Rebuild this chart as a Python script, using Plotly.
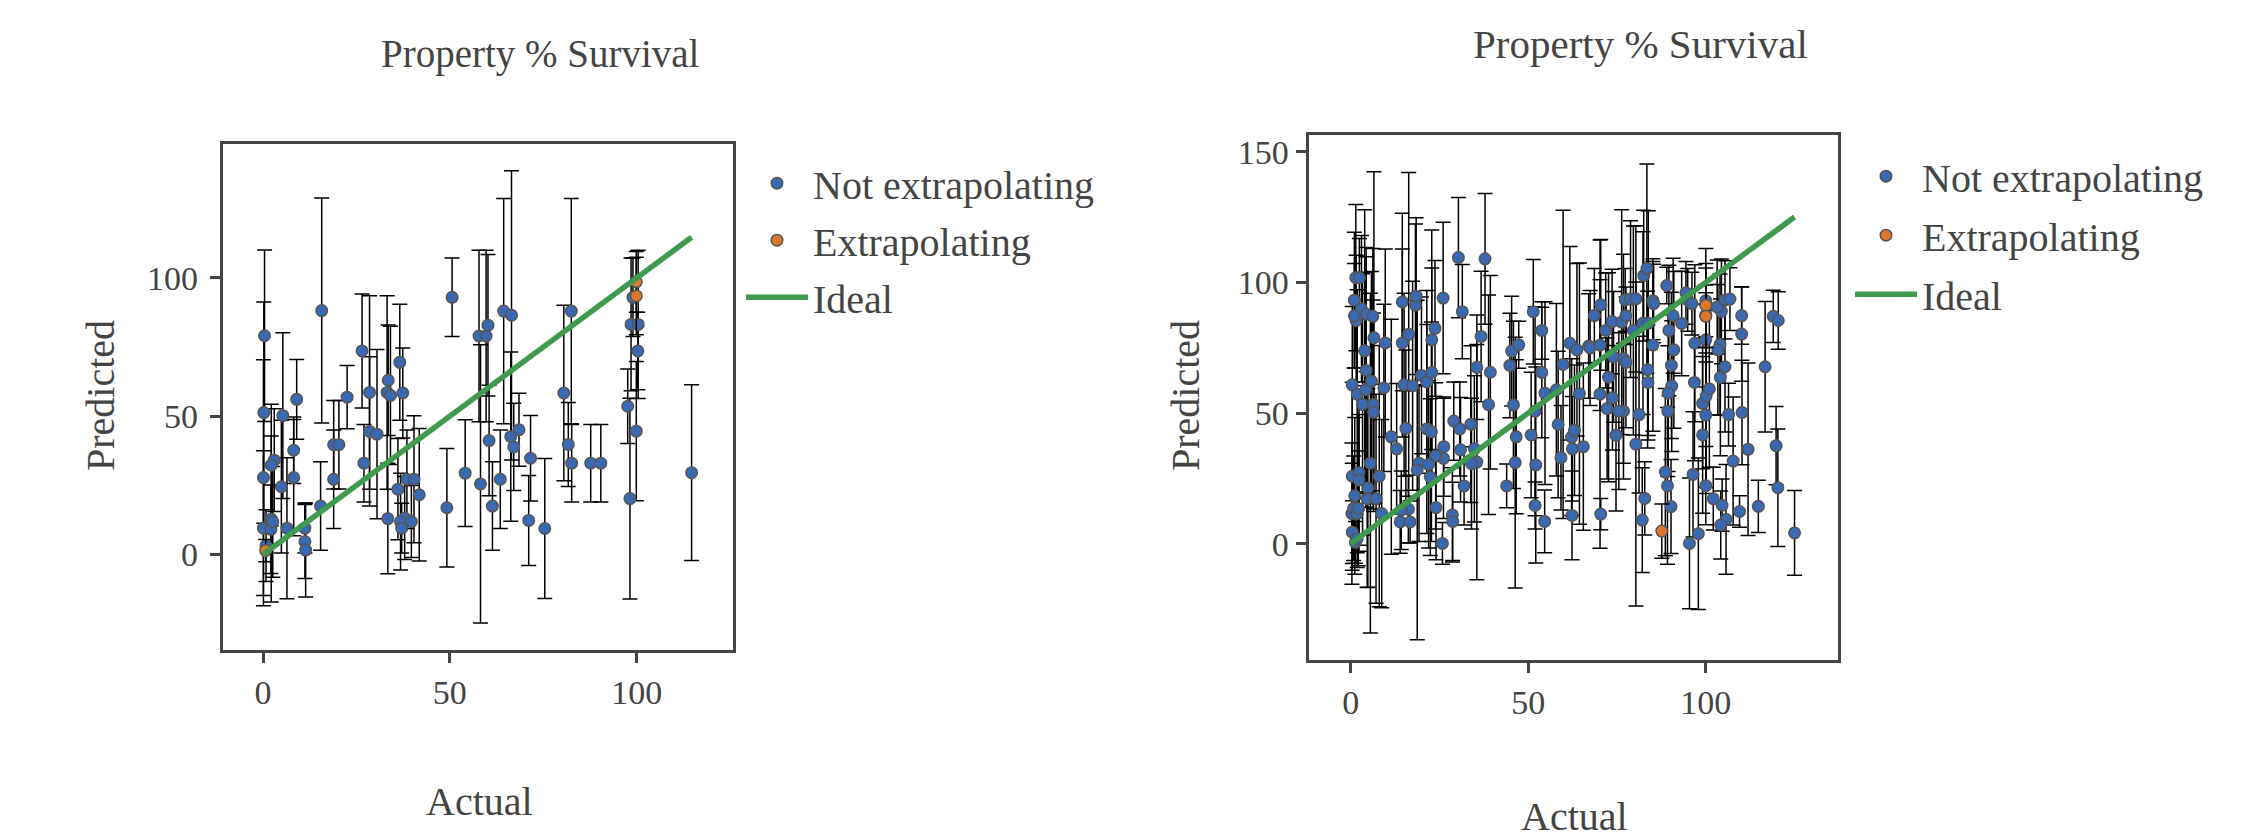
import plotly.graph_objects as go

# ---------- left panel data ----------
left_x = [0.4,0.2,0.1,0.1,2.1,0.8,2.2,2.6,3.0,2.2,5.3,4.9,6.4,8.2,8.2,9.0,15.7,11.2,11.2,11.4,15.4,18.9,20.3,18.9,22.5,26.5,28.5,28.5,27.0,30.5,33.2,34.1,33.5,33.4,36.6,37.4,36.1,38.5,40.4,41.8,37.9,36.8,39.7,37.1,50.6,49.2,54.1,58.2,57.8,59.7,60.2,60.5,61.4,63.5,64.4,66.5,66.3,67.1,68.5,71.6,71.1,75.4,80.5,82.5,81.7,82.6,87.7,90.4,97.6,98.2,99.0,98.5,100.4,100.3,99.9,114.7]
left_y = [79.1,51.3,27.8,9.5,9.1,3.2,12.8,11.8,34.1,32.3,50.2,24.5,9.5,37.7,27.8,56.1,88.2,4.7,9.5,1.6,17.5,39.7,39.7,27.2,56.9,73.6,58.6,44.5,33.0,43.5,58.6,57.5,63.0,13.0,69.5,58.4,23.6,27.2,27.2,21.6,13.2,11.9,11.9,9.5,93.0,16.9,29.4,25.5,79.0,79.0,82.9,41.2,17.5,27.2,88.0,86.5,42.6,38.9,45.1,34.8,12.3,9.4,58.4,88.0,39.8,33.0,33.0,33.0,53.6,20.2,93.0,83.2,83.2,73.6,44.6,29.6]
left_err = [31,40,42.6,28,16,13,30,20,18.6,22,30,24,25.5,12,21,14.4,40.7,13.4,9,17,16,16,16,17.8,11.4,20.6,35,27,14,30.6,35,25,20,20,21,16.3,18.3,17.8,23,24,15,17.5,13,9,14.2,21.4,19.3,50.3,31,31,25.6,20,16,17.8,40.7,52.3,30.6,15.8,13.2,15.5,16.3,25.3,31.7,40.7,15.2,14,14,14,13.5,36.3,14.2,24,26.8,14,25.2,31.8]
left_ext_x = [0.7,99.9,99.9]
left_ext_y = [1.4,98.6,93.5]
left_ext_err = [4,11,14]
left_ideal = [0,114.7]

# ---------- right panel data ----------
right_x = [0.3,0.8,0.4,1.1,0.4,1.3,1.8,2.1,1.8,2.3,2.3,4.8,4.6,7.1,5.5,8.0,8.7,0.4,1.8,3.3,4.2,5.8,4.3,6.3,6.4,9.3,3.9,6.5,9.7,1.5,1.0,3.0,4.3,6.2,1.0,1.4,2.4,11.4,12.9,
14.5,14.5,15.0,15.5,17.4,16.3,18.2,18.4,19.9,21.4,22.8,22.8,23.7,26.0,21.4,22.7,26.2,26.1,23.9,19.2,18.7,21.9,22.4,16.2,14.2,13.9,16.7,24.0,25.8,28.6,28.7,29.0,30.7,30.9,33.8,34.8,35.5,34.0,31.9,30.3,31.4,37.8,36.7,35.5,39.3,38.8,
43.9,46.3,46.6,45.8,44.8,45.3,47.3,51.4,53.8,53.8,54.7,57.9,51.9,50.8,52.1,51.9,54.6,58.4,59.2,59.8,61.7,63.7,67.0,67.4,70.2,70.4,68.6,71.8,73.6,76.3,77.5,77.3,78.8,80.3,85.1,85.3,79.6,82.3,83.8,82.5,83.4,89.0,89.6,85.1,91.0,90.3,83.6,83.7,90.4,89.4,89.3,81.2,76.8,75.5,72.2,73.7,70.2,64.4,72.6,74.0,76.8,77.5,62.2,63.0,62.4,65.5,74.7,80.3,62.3,70.4,82.1,82.8,88.6,89.2,90.2,
90.8,93.2,94.4,94.9,96.1,96.9,96.8,99.1,100.1,101.0,100.0,99.1,96.4,100.0,102.1,104.6,105.7,104.2,97.9,95.4,104.0,103.4,104.1,105.4,106.4,110.2,107.7,111.9,109.5,114.8,110.1,110.1,104.4,103.2,105.4,106.8,116.7,119.0,120.4,119.8,120.3,125.0,100.0,100.0,100.0]
right_y = [11.5,13.5,25.8,18.3,4.4,0.5,11.5,13.5,1.9,27.1,24.4,21.3,17.2,17.2,30.8,25.8,11.5,60.8,57.2,53.3,58.9,62.2,66.3,53.3,50.3,59.6,73.8,78.8,76.8,85.4,87.2,89.9,87.8,87.0,93.2,101.8,101.8,40.9,36.3,
92.5,76.8,60.8,44.1,60.4,80.1,91.3,94.7,64.4,61.9,65.5,78.0,82.4,94.0,43.9,42.8,37.1,32.6,33.6,30.8,28.2,30.3,25.5,13.2,12.8,8.3,8.3,13.8,0.1,11.0,8.5,46.9,43.9,35.9,45.7,36.3,31.2,30.6,22.1,109.5,88.8,109.0,79.3,67.5,65.6,53.2,
22.1,31.0,40.9,53.1,68.2,73.7,76.1,88.8,81.6,65.5,57.6,58.9,50.7,41.6,30.1,14.6,8.5,45.6,32.9,68.6,76.7,74.2,75.6,74.9,76.0,91.4,87.3,81.6,85.0,84.8,87.2,93.3,93.6,93.7,93.0,91.9,81.6,84.4,84.4,102.6,105.3,98.8,81.6,76.0,74.2,68.2,66.6,61.7,60.3,57.6,50.7,49.4,50.7,50.7,51.7,55.8,57.2,57.4,63.7,71.5,70.8,69.4,40.8,43.4,36.3,37.1,41.5,38.1,10.8,11.3,9.0,17.3,27.4,22.1,14.2,
87.2,84.3,96.0,93.3,91.9,76.7,61.7,53.7,56.5,59.2,49.2,41.6,26.5,22.2,17.2,14.7,9.3,7.1,3.8,0.1,76.2,74.2,63.6,67.7,49.4,50.2,31.6,36.1,12.3,14.3,80.2,87.3,88.9,90.6,93.3,93.6,67.7,87.0,85.4,37.5,21.4,4.1,93.0,87.5,78.0]
right_err = [27,20,36,30,12,8,15,22,11,30,25,38,34,40,65,50,36,30,40,50,45,42,47,40,38,32,54,63.5,36,25,20,28,22,26,26,28,15,45,25,
34,36,35,30,40,62,31,30,30,35,40,42,26,29,40,42,19,23,28,30,65,32,30,13,15,12,8,20,8,18,15,15,18,20,30,28,45,25,15,23,18,25,25,20,37,42,
8.4,48,29.5,32,20,21,9,20,11,25,35,33,40,24,37.5,9,12,28,20,59,37,33,20,22,25,25,18,22,20,43,11,12,30,28,15,15,40,35,43,25,40,7,25,33,30,28,30,22,25,30,25,30,26,30,27,20,59,50,40,25,40,25,30,25,20,32,29,62,17,6,20,14,32,30,18,
22,20,12,12,12,30,30,25,35,30,30,30,24,15,12,10,21,13,29,25,27,25,30,25,12,20,24.5,33,6,10,18,11,20,18,15,12,25,10,11,15,22.5,16.2,20,18,18]
right_ext_x = [100.0,100.0,87.6]
right_ext_y = [91.2,87.0,4.8]
right_ext_err = [16,12,10.4]
right_ideal = [0,125]

legend_names = ["Not extrapolating", "Extrapolating", "Ideal"]
title_text = "Property % Survival"
x_title = "Actual"
y_title = "Predicted"

W, H = 2241, 838
TXT = "#444444"
BLUE = "#3a69b1"
ORANGE = "#dc772b"
GREEN = "#3f9a50"
EDGE = "#555555"
FONT = "Liberation Serif"

fig = go.Figure()

def add_panel(xref, yref, legend, xs, ys, es, xo, yo, eo, ideal):
    err = lambda e: dict(type="data", array=e, visible=True, color="black", thickness=1.5, width=7.5)
    mk = lambda c: dict(color=c, size=11.5, line=dict(color=EDGE, width=1.5))
    fig.add_trace(go.Scatter(x=xs, y=ys, mode="markers", name=legend_names[0], marker=mk(BLUE),
                             error_y=err(es), xaxis=xref, yaxis=yref, legend=legend, legendgroup=legend + "a"))
    fig.add_trace(go.Scatter(x=xo, y=yo, mode="markers", name=legend_names[1], marker=mk(ORANGE),
                             error_y=err(eo), xaxis=xref, yaxis=yref, legend=legend, legendgroup=legend + "b"))
    fig.add_trace(go.Scatter(x=ideal, y=ideal, mode="lines", name=legend_names[2],
                             line=dict(color=GREEN, width=5.5), xaxis=xref, yaxis=yref,
                             legend=legend, legendgroup=legend + "c"))

add_panel("x", "y", "legend", left_x, left_y, left_err, left_ext_x, left_ext_y, left_ext_err, left_ideal)
add_panel("x2", "y2", "legend2", right_x, right_y, right_err, right_ext_x, right_ext_y, right_ext_err, right_ideal)

def axis(domain, rng, ticks, anchor, standoff=0):
    return dict(domain=domain, range=rng, tickvals=ticks, ticktext=[str(t) for t in ticks], anchor=anchor,
                showgrid=False, zeroline=False, showline=True, mirror=True, linecolor=TXT, linewidth=3,
                ticks="outside", ticklen=10, tickwidth=3, tickcolor=TXT, ticklabelstandoff=standoff,
                tickfont=dict(family=FONT, size=34, color=TXT))

def legend_box(x, y, gap):
    return dict(x=x, y=y, xanchor="left", yanchor="top", bgcolor="rgba(0,0,0,0)", borderwidth=0,
                font=dict(family=FONT, size=40, color=TXT), itemwidth=62,
                traceorder="grouped", tracegroupgap=gap, itemclick=False)

def label(text, px, py, size, angle=0):
    return dict(text=text, x=px / W, y=1 - py / H, xref="paper", yref="paper", showarrow=False,
                xanchor="center", yanchor="middle", textangle=angle,
                font=dict(family=FONT, size=size, color=TXT))

fig.update_layout(
    width=W, height=H, autosize=False, margin=dict(l=0, r=0, t=0, b=0),
    paper_bgcolor="white", plot_bgcolor="white", showlegend=True,
    font=dict(family=FONT, color=TXT),
    xaxis=axis([222.7 / W, 732.7 / W], [-10.8, 125.7], [0, 50, 100], "y"),
    yaxis=axis([1 - 650 / H, 1 - 142.7 / H], [-34.7, 148.3], [0, 50, 100], "x", 5),
    xaxis2=axis([1308.6 / W, 1837.5 / W], [-11.9, 137.1], [0, 50, 100], "y2"),
    yaxis2=axis([1 - 660 / H, 1 - 133.6 / H], [-44.7, 156.3], [0, 50, 100, 150], "x2"),
    legend=legend_box(741 / W, 1 - 149 / H, 2),
    legend2=legend_box(1850 / W, 1 - 142 / H, 4),
    annotations=[
        label(title_text, 540, 52, 39),
        label(title_text, 1640, 42, 41),
        label(x_title, 479, 801, 40),
        label(x_title, 1574, 816, 40),
        label(y_title, 100, 395, 40, -90),
        label(y_title, 1185, 395, 40, -90),
    ],
)

fig.write_html("out.html", config={"displayModeBar": False}, post_script="document.body.style.margin='0';")
